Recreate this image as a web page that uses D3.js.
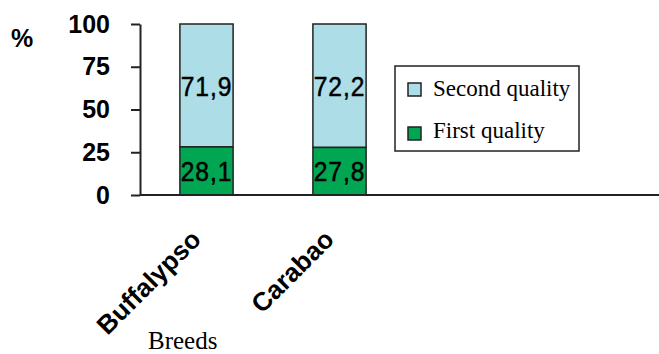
<!DOCTYPE html>
<html><head><meta charset="utf-8">
<script src="https://cdn.jsdelivr.net/npm/d3@7"></script>
<style>body{margin:0;background:#fff}svg{display:block}</style>
</head><body>
<svg id="c" width="659" height="354"></svg>
<script>
const categories = ["Buffalypso", "Carabao"];
const firstQuality = [28.1, 27.8];
const secondQuality = [71.9, 72.2];
const firstLabels = ["28,1", "27,8"];
const secondLabels = ["71,9", "72,2"];
const yTicks = [0, 25, 50, 75, 100];
const seriesNames = ["Second quality", "First quality"];
const colors = {first: "#00a651", second: "#addde6"};

const svg = d3.select("#c");
const x = d3.scaleBand().domain(categories).range([140, 406]).paddingInner(0.6).paddingOuter(0.3);
const y = d3.scaleLinear().domain([0, 100]).range([195, 24]);

// y axis
const yAxis = d3.axisLeft(y).tickValues(yTicks).tickSize(9).tickSizeOuter(0).tickPadding(21);
const ga = svg.append("g").attr("transform", "translate(140,0)").call(yAxis);
ga.select(".domain").attr("stroke", "#222").attr("stroke-width", 2);
ga.selectAll(".tick line").attr("stroke", "#222").attr("stroke-width", 2);
ga.selectAll(".tick text").attr("font-family", "Liberation Sans, Arial, sans-serif")
  .attr("font-weight", "bold").attr("font-size", 25).attr("fill", "#000");

svg.append("text").attr("x", 11).attr("y", 47).text("%")
  .attr("font-family", "Liberation Sans, Arial, sans-serif").attr("font-weight", "bold").attr("font-size", 25);

// stacked bars
const data = categories.map((c, i) => ({c, f: firstQuality[i], s: secondQuality[i], fl: firstLabels[i], sl: secondLabels[i]}));
const bw = x.bandwidth();
const g = svg.append("g");
g.selectAll("rect.s").data(data).join("rect").attr("class", "s")
  .attr("x", d => x(d.c)).attr("width", bw)
  .attr("y", d => y(d.f + d.s)).attr("height", d => y(d.f) - y(d.f + d.s))
  .attr("fill", colors.second).attr("stroke", "#222").attr("stroke-width", 1.5);
g.selectAll("rect.f").data(data).join("rect").attr("class", "f")
  .attr("x", d => x(d.c)).attr("width", bw)
  .attr("y", d => y(d.f)).attr("height", d => y(0) - y(d.f))
  .attr("fill", colors.first).attr("stroke", "#222").attr("stroke-width", 1.5);

const lab = (sel) => sel.attr("font-family", "Liberation Sans, Arial, sans-serif").attr("font-size", 28)
  .attr("text-anchor", "middle").attr("dominant-baseline", "central").attr("fill", "#000")
  .attr("stroke", "#000").attr("stroke-width", 0.5).attr("letter-spacing", 1);
g.selectAll("text.s").data(data).join("text").attr("class", "s")
  .attr("transform", d => `translate(${x(d.c) + bw / 2},${(y(d.f + d.s) + y(d.f)) / 2 + 1}) scale(0.88,1)`)
  .text(d => d.sl).call(lab);
g.selectAll("text.f").data(data).join("text").attr("class", "f")
  .attr("transform", d => `translate(${x(d.c) + bw / 2},${(y(d.f) + y(0)) / 2}) scale(0.88,1)`)
  .text(d => d.fl).call(lab);

// x baseline
svg.append("line").attr("x1", 140).attr("x2", 659).attr("y1", y(0)).attr("y2", y(0))
  .attr("stroke", "#222").attr("stroke-width", 2);

// category labels
svg.selectAll("text.cat").data(categories).join("text").attr("class", "cat")
  .attr("transform", d => `translate(${x(d) + bw / 2 - 4},${241}) rotate(-45)`)
  .attr("text-anchor", "end").text(d => d)
  .attr("font-family", "Liberation Sans, Arial, sans-serif").attr("font-weight", "bold").attr("font-size", 26);

svg.append("text").attr("x", 148).attr("y", 349).text("Breeds")
  .attr("font-family", "Liberation Serif, Times New Roman, serif").attr("font-size", 25);

// legend
const lg = svg.append("g");
lg.append("rect").attr("x", 395).attr("y", 66).attr("width", 184).attr("height", 85)
  .attr("fill", "#fff").attr("stroke", "#222").attr("stroke-width", 1.5);
const legendColors = [colors.second, colors.first];
seriesNames.forEach((n, i) => {
  lg.append("rect").attr("x", 408).attr("y", 83 + i * 44).attr("width", 13).attr("height", 13)
    .attr("fill", legendColors[i]).attr("stroke", "#222").attr("stroke-width", 1.5);
  lg.append("text").attr("x", 433).attr("y", 96 + i * 42).text(n)
    .attr("font-family", "Liberation Serif, Times New Roman, serif").attr("font-size", 23);
});
</script>
</body></html>
